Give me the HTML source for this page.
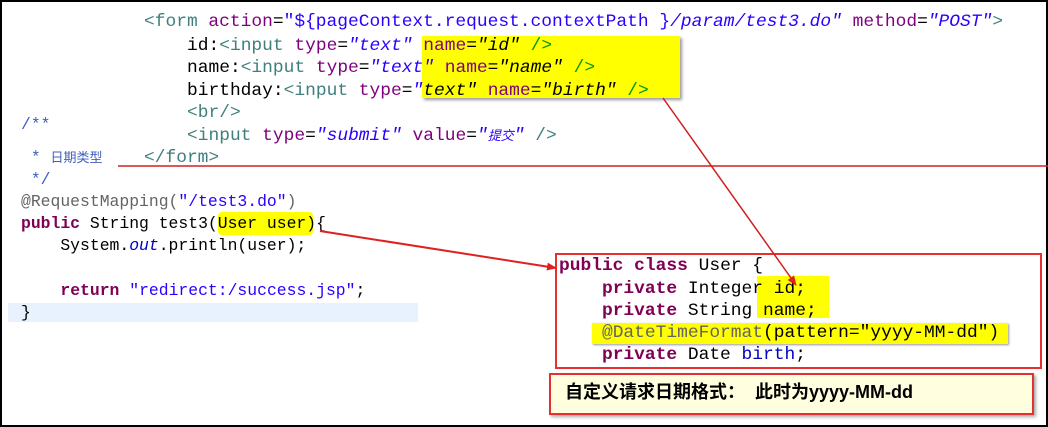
<!DOCTYPE html>
<html><head><meta charset="utf-8"><style>
body{margin:0;width:1048px;height:427px;background:#fff;overflow:hidden;position:relative}
#frame{position:absolute;left:0;top:0;width:1044px;height:423px;border:2px solid #000}
.l{position:absolute;white-space:pre;font-family:"Liberation Mono","Noto Sans CJK SC",monospace;line-height:22px}
.t{font-size:17.9px}
.j{font-size:16.4px}
.tag{color:#3f7f7f}.att{color:#7f007f}.val{color:#2a00ff;font-style:italic}.str{color:#2a00ff}
.kw{color:#7f0055;font-weight:bold}.ann{color:#646464}.cm{color:#3f5fbf}.blk{color:#000}
.box{position:absolute}
</style></head><body>
<div id="frame"></div>
<div class="box" style="left:8px;top:303px;width:410px;height:19px;background:#e8f2fe"></div>
<div class="box" style="left:422px;top:36px;width:258px;height:62px;background:#ffff00;box-shadow:2px 2px 3px #999"></div>
<div class="box" style="left:218px;top:212px;width:95px;height:23px;background:#ffff00;border-radius:4px"></div>
<div class="box" style="left:757px;top:276px;width:72px;height:42px;background:#ffff00"></div>
<div class="box" style="left:592px;top:323px;width:416px;height:21px;background:#ffff00;box-shadow:1px 1px 2px #999"></div>
<div class="box" style="left:555px;top:253px;width:483px;height:112px;border:2px solid #e63030"></div>
<div class="box" style="left:549px;top:373px;width:481px;height:38px;border:2px solid #e63030;background:#ffffe0;box-shadow:2px 2px 3px #aaa"></div>

<div class="l t" style="left:144px;top:11px"><span class="tag">&lt;form </span><span class="att">action</span>=<span class="str">"${pageContext.request.contextPath }</span><span class="val">/param/test3.do"</span> <span class="att">method</span>=<span class="val">"POST"</span><span class="tag">&gt;</span></div>
<div class="l t" style="left:187px;top:35px">id:<span class="tag">&lt;input </span><span class="att">type</span>=<span class="val">"text"</span> <span class="att">name</span>=<span class="val" style="color:#000">"id"</span> <span class="tag" style="color:#090">/&gt;</span></div>
<div class="l t" style="left:187px;top:57px">name:<span class="tag">&lt;input </span><span class="att">type</span>=<span class="val">"text"</span> <span class="att">name</span>=<span class="val" style="color:#000">"name"</span> <span class="tag" style="color:#090">/&gt;</span></div>
<div class="l t" style="left:187px;top:80px">birthday:<span class="tag">&lt;input </span><span class="att">type</span>=<span class="val">"<span style="color:#000">text"</span></span> <span class="att">name</span>=<span class="val" style="color:#000">"birth"</span> <span class="tag" style="color:#090">/&gt;</span></div>
<div class="l t" style="left:187px;top:102px"><span class="tag">&lt;br/&gt;</span></div>
<div class="l t" style="left:187px;top:125px"><span class="tag">&lt;input </span><span class="att">type</span>=<span class="val">"submit"</span> <span class="att">value</span>=<span class="val">"<span style="font-size:13px">提交</span>"</span> <span class="tag">/&gt;</span></div>
<div class="l t" style="left:144px;top:147px"><span class="tag">&lt;/form&gt;</span></div>

<div class="l j cm" style="left:21px;top:114px">/**</div>
<div class="l j cm" style="left:21px;top:147px"> * <span style="font-size:13px">日期类型</span></div>
<div class="l j cm" style="left:21px;top:169px"> */</div>
<div class="l j" style="left:21px;top:191px"><span class="ann">@RequestMapping(</span><span class="str">"/test3.do"</span><span class="ann">)</span></div>
<div class="l j" style="left:21px;top:213px"><span class="kw">public</span> String test3(User user){</div>
<div class="l j" style="left:21px;top:235px">    System.<span style="color:#0000c0;font-style:italic">out</span>.println(user);</div>
<div class="l j" style="left:21px;top:280px">    <span class="kw">return</span> <span class="str">"redirect:/success.jsp"</span>;</div>
<div class="l j" style="left:21px;top:302px">}</div>

<div class="l t" style="left:559px;top:255px"><span class="kw">public</span> <span class="kw">class</span> User {</div>
<div class="l t" style="left:559px;top:278px">    <span class="kw">private</span> Integer id;</div>
<div class="l t" style="left:559px;top:300px">    <span class="kw">private</span> String name;</div>
<div class="l t" style="left:559px;top:322px">    <span class="ann">@DateTimeFormat</span>(pattern="yyyy-MM-dd")</div>
<div class="l t" style="left:559px;top:344px">    <span class="kw">private</span> Date <span style="color:#0000c0">birth</span>;</div>

<div class="l" style="left:565px;top:381px;font-family:'Liberation Sans','Noto Sans CJK SC',sans-serif;font-size:18px;font-weight:bold">自定义请求日期格式：  此时为yyyy-MM-dd</div>

<svg width="1048" height="427" style="position:absolute;left:0;top:0">
<defs><marker id="a" markerWidth="10" markerHeight="8" refX="9" refY="4" orient="auto" markerUnits="userSpaceOnUse"><path d="M0,0L10,4L0,8z" fill="#e02020"/></marker></defs>
<line x1="118" y1="166" x2="1048" y2="166" stroke="#d02020" stroke-width="1.5"/>
<line x1="663" y1="98" x2="796" y2="285" stroke="#d02020" stroke-width="1.5" marker-end="url(#a)"/>
<line x1="320" y1="231" x2="556" y2="268" stroke="#e02020" stroke-width="2" marker-end="url(#a)"/>
</svg>
</body></html>
